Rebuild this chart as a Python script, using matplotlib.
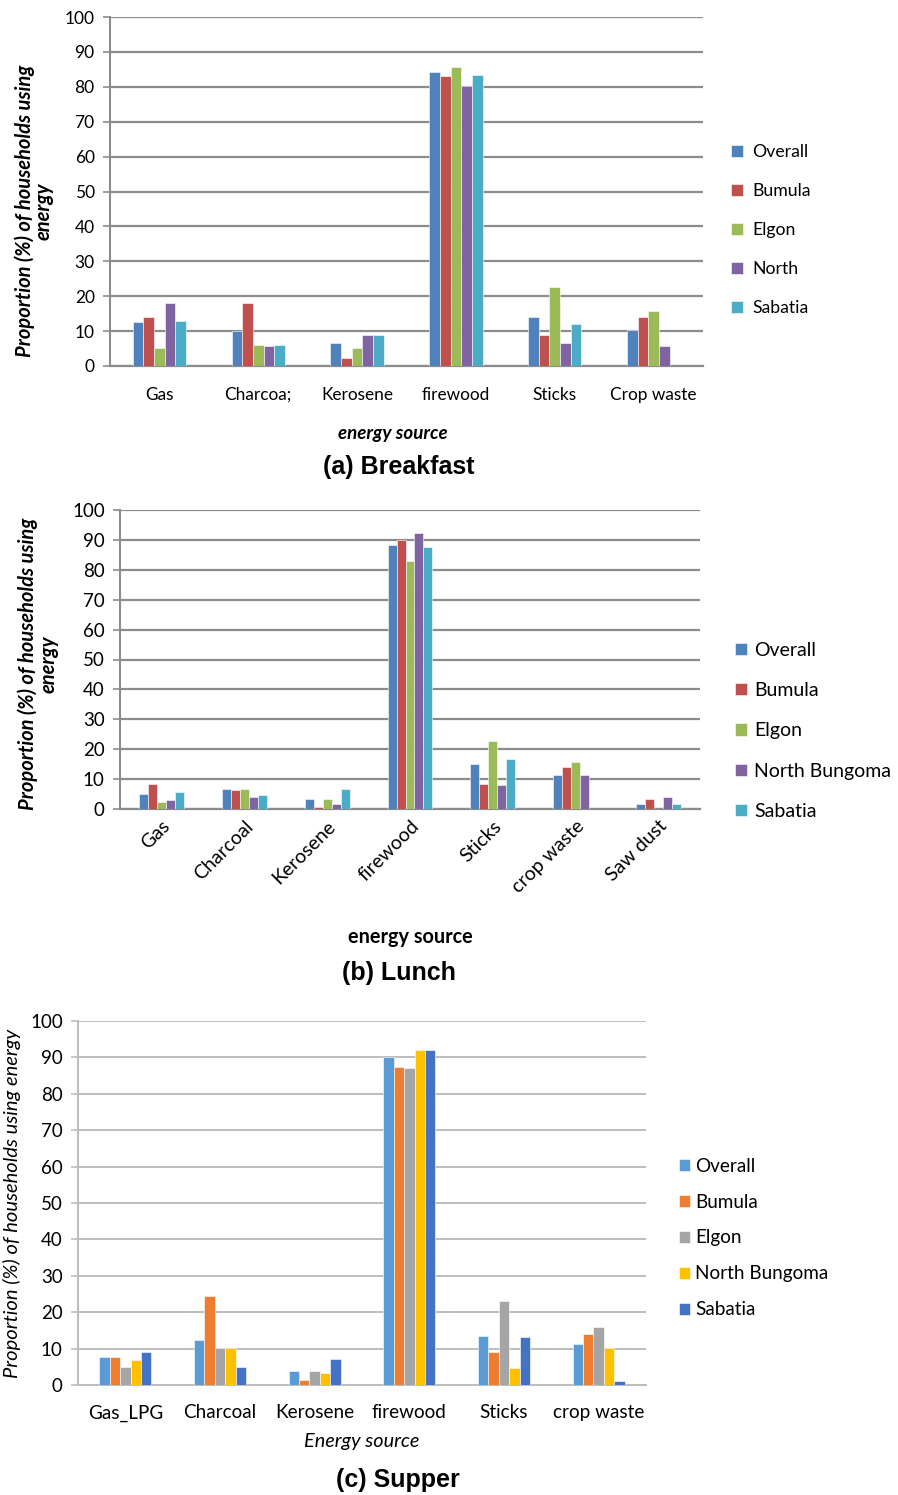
import matplotlib
matplotlib.use("Agg")
import matplotlib.pyplot as plt
import numpy as np

W, H = 898, 1495
FONT = ["Lato", "DejaVu Sans"]
TFONT = ["Liberation Sans", "DejaVu Sans"]

# ---------------- data ----------------
series_a = ["Overall", "Bumula", "Elgon", "North", "Sabatia"]
cats_a = ["Gas", "Charcoa;", "Kerosene", "firewood", "Sticks", "Crop waste"]
a_overall = [12.5, 9.9, 6.5, 84.1, 13.9, 10.3]
a_bumula = [13.9, 18.0, 2.4, 83.1, 8.8, 13.9]
a_elgon = [5.1, 6.0, 5.1, 85.8, 22.7, 15.8]
a_north = [18.0, 5.6, 8.8, 80.3, 6.5, 5.6]
a_sabatia = [12.9, 6.0, 8.8, 83.5, 12.0, 0.0]

series_b = ["Overall", "Bumula", "Elgon", "North Bungoma", "Sabatia"]
cats_b = ["Gas", "Charcoal", "Kerosene", "firewood", "Sticks", "crop waste", "Saw dust"]
b_overall = [5.1, 6.8, 3.5, 88.3, 15.1, 11.3, 1.8]
b_bumula = [8.5, 6.2, 0.8, 90.0, 8.5, 14.0, 3.5]
b_elgon = [2.3, 6.8, 3.5, 82.8, 22.7, 15.6, 0.0]
b_north = [2.9, 4.0, 1.8, 92.2, 7.9, 11.3, 4.0]
b_sabatia = [5.7, 4.6, 6.8, 87.7, 16.7, 0.0, 1.8]

series_c = ["Overall", "Bumula", "Elgon", "North Bungoma", "Sabatia"]
cats_c = ["Gas_LPG", "Charcoal", "Kerosene", "firewood", "Sticks", "crop waste"]
c_overall = [7.6, 12.5, 3.9, 90.0, 13.4, 11.4]
c_bumula = [7.6, 24.4, 1.3, 87.3, 9.0, 14.1]
c_elgon = [5.0, 10.1, 3.9, 87.1, 23.0, 16.0]
c_north = [6.8, 10.3, 3.4, 92.1, 4.6, 10.3]
c_sabatia = [9.2, 5.0, 7.1, 91.9, 13.1, 1.0]

yticks = [0, 10, 20, 30, 40, 50, 60, 70, 80, 90, 100]

colors_ab = ["#4F81BD", "#C0504D", "#9BBB59", "#8064A2", "#4BACC6"]
colors_c = ["#5B9BD5", "#ED7D31", "#A5A5A5", "#FFC000", "#4472C4"]

fig = plt.figure(figsize=(W / 100, H / 100), dpi=100)


def fx(px):
    return px / W


def fy(py):
    return 1 - py / H


def make_axes(left, top, right, bottom):
    return fig.add_axes([fx(left), fy(bottom), fx(right - left), (bottom - top) / H])


def draw_panel(ax, cats, data, names, colors, gridcol, gridlw, tickfs, bw=0.108):
    x = np.arange(len(cats))
    k = len(data)
    for i, (vals, name, col) in enumerate(zip(data, names, colors)):
        ax.bar(x + (i - (k - 1) / 2) * bw, vals, width=bw, color=col,
               edgecolor="white", linewidth=0.4, label=name, zorder=3)
    ax.set_xlim(-0.5, len(cats) - 0.5)
    ax.set_ylim(0, 100)
    ax.set_yticks(yticks)
    ax.set_yticklabels([str(t) for t in yticks], fontsize=tickfs, family=FONT)
    ax.yaxis.grid(True, color=gridcol, linewidth=gridlw)
    ax.set_axisbelow(True)
    for s in ["top", "right"]:
        ax.spines[s].set_visible(False)
    ax.spines["left"].set_color("#8c8c8c")
    ax.spines["left"].set_linewidth(1.5)
    ax.spines["bottom"].set_color(gridcol)
    ax.spines["bottom"].set_linewidth(gridlw)
    ax.tick_params(axis="y", length=5, width=1.2, color="#8c8c8c", pad=6)
    ax.tick_params(axis="x", length=0)
    ax.set_xticks(x)
    return x


# ---------------- (a) Breakfast ----------------
ax1 = make_axes(110, 17, 703, 366)
draw_panel(ax1, cats_a, [a_overall, a_bumula, a_elgon, a_north, a_sabatia],
           series_a, colors_ab, "#8c8c8c", 1.6, 12.5)
ax1.set_xticklabels(cats_a, fontsize=12.4, family=FONT)
ax1.tick_params(axis="x", pad=15)
fig.text(fx(34), fy(211), "Proportion (%) of households using\nenergy", rotation=90,
         ha="center", va="center", fontsize=14.5, fontweight="bold", fontstyle="italic",
         family=FONT, linespacing=0.95)
fig.text(fx(393), fy(433), "energy source", ha="center", va="center", fontsize=13.5,
         fontweight="bold", fontstyle="italic", family=FONT)
fig.text(fx(399), fy(467), "(a) Breakfast", ha="center", va="center", fontsize=18,
         fontweight="bold", family=TFONT)
ax1.legend(loc="center left", bbox_to_anchor=((715 - 110) / 593, (366 - 230) / 349),
           frameon=False, prop={"family": FONT, "size": 12.7},
           handlelength=0.7, handleheight=0.7, handletextpad=0.5, labelspacing=1.3)

# ---------------- (b) Lunch ----------------
ax2 = make_axes(120, 510, 700, 809)
draw_panel(ax2, cats_b, [b_overall, b_bumula, b_elgon, b_north, b_sabatia],
           series_b, colors_ab, "#8c8c8c", 1.6, 13.5)
ax2.set_xticklabels(cats_b, fontsize=14, family=FONT, rotation=45, ha="right",
                    rotation_mode="anchor")
ax2.tick_params(axis="x", pad=6)
fig.text(fx(38), fy(664), "Proportion (%) of households using\nenergy", rotation=90,
         ha="center", va="center", fontsize=14.5, fontweight="bold", fontstyle="italic",
         family=FONT, linespacing=1.05)
fig.text(fx(410), fy(937), "energy source", ha="center", va="center", fontsize=14.3,
         fontweight="bold", family=FONT)
fig.text(fx(399), fy(973), "(b) Lunch", ha="center", va="center", fontsize=18,
         fontweight="bold", family=TFONT)
ax2.legend(loc="center left", bbox_to_anchor=((718 - 120) / 580, (809 - 731) / 299),
           frameon=False, prop={"family": FONT, "size": 14},
           handlelength=0.6, handleheight=0.6, handletextpad=0.35, labelspacing=1.2)

# ---------------- (c) Supper ----------------
ax3 = make_axes(78, 1021, 646, 1385)
draw_panel(ax3, cats_c, [c_overall, c_bumula, c_elgon, c_north, c_sabatia],
           series_c, colors_c, "#bdbdbd", 1.4, 13.5, bw=0.11)
ax3.spines["left"].set_color("#bdbdbd")
ax3.tick_params(axis="y", color="#bdbdbd")
ax3.set_xticklabels(cats_c, fontsize=13.6, family=FONT)
ax3.tick_params(axis="x", pad=14)
fig.text(fx(12), fy(1203), "Proportion (%) of households using energy", rotation=90,
         ha="center", va="center", fontsize=14.5, fontstyle="italic", family=FONT)
fig.text(fx(362), fy(1441), "Energy source", ha="center", va="center", fontsize=14.3,
         fontstyle="italic", family=FONT)
fig.text(fx(398), fy(1480), "(c) Supper", ha="center", va="center", fontsize=18,
         fontweight="bold", family=TFONT)
ax3.legend(loc="center left", bbox_to_anchor=((662 - 78) / 568, (1385 - 1238) / 364),
           frameon=False, prop={"family": FONT, "size": 13.6},
           handlelength=0.6, handleheight=0.6, handletextpad=0.25, labelspacing=1.0)

fig.savefig("out.png", dpi=100)
